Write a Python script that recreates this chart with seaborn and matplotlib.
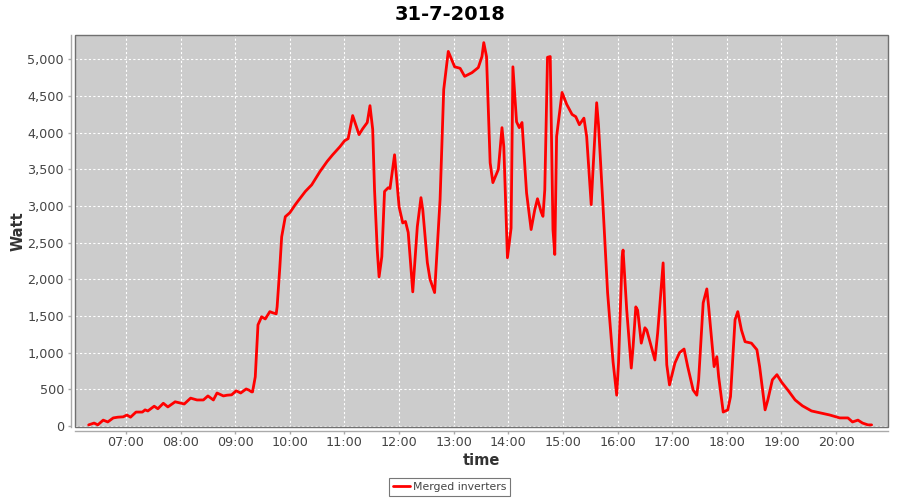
import matplotlib
matplotlib.use("Agg")
import matplotlib.pyplot as plt
import matplotlib.dates as mdates
from matplotlib.ticker import FuncFormatter, MultipleLocator
from matplotlib.patches import Rectangle
import seaborn as sns
import pandas as pd

times = ["06:19", "06:25", "06:29", "06:35", "06:40", "06:46", "06:51", "06:57",
         "07:01", "07:05", "07:11", "07:18", "07:21", "07:24", "07:31", "07:35",
         "07:41", "07:46", "07:54", "08:04", "08:11", "08:18", "08:25", "08:30",
         "08:36", "08:40", "08:47", "08:51", "08:56", "09:01", "09:06", "09:12",
         "09:15", "09:18", "09:19", "09:22", "09:25", "09:29", "09:33", "09:38",
         "09:41", "09:45", "09:46", "09:49", "09:51", "09:55", "10:00", "10:06",
         "10:09", "10:17", "10:24", "10:33", "10:41", "10:47", "10:55", "11:00",
         "11:04", "11:09", "11:16", "11:20", "11:25", "11:28", "11:31", "11:33",
         "11:36", "11:38", "11:41", "11:44", "11:48", "11:50", "11:55", "12:00",
         "12:04", "12:07", "12:10", "12:15", "12:20", "12:24", "12:26", "12:31",
         "12:34", "12:39", "12:45", "12:49", "12:54", "13:01", "13:07", "13:12",
         "13:20", "13:27", "13:31", "13:33", "13:36", "13:40", "13:43", "13:49",
         "13:53", "13:55", "13:59", "14:03", "14:05", "14:09", "14:12", "14:15",
         "14:20", "14:25", "14:29", "14:32", "14:36", "14:38", "14:40", "14:43",
         "14:46", "14:49", "14:51", "14:53", "14:59", "15:04", "15:10", "15:14",
         "15:18", "15:23", "15:26", "15:31", "15:33", "15:37", "15:39", "15:44",
         "15:49", "15:55", "15:59", "16:01", "16:05", "16:06", "16:10", "16:15",
         "16:17", "16:20", "16:22", "16:26", "16:30", "16:32", "16:41", "16:44",
         "16:50", "16:54", "16:57", "17:03", "17:08", "17:13", "17:17", "17:23",
         "17:27", "17:29", "17:34", "17:38", "17:40", "17:46", "17:49", "17:51",
         "17:56", "18:01", "18:04", "18:09", "18:12", "18:16", "18:20", "18:27",
         "18:33", "18:36", "18:42", "18:45", "18:50", "18:55", "19:00", "19:07",
         "19:15", "19:23", "19:33", "19:42", "19:53", "20:04", "20:13", "20:18",
         "20:24", "20:29", "20:35", "20:39"]

watts = [15, 40, 15, 80, 55, 110, 120, 125,
         150, 120, 190, 190, 220, 205, 270, 235,
         310, 260, 330, 300, 380, 355, 355, 410,
         355, 450, 410, 420, 425, 480, 450, 505,
         490, 465, 465, 670, 1380, 1490, 1460, 1560,
         1545, 1530, 1625, 2170, 2580, 2855, 2910, 3020,
         3070, 3200, 3290, 3470, 3610, 3700, 3810, 3890,
         3920, 4235, 3975, 4055, 4140, 4370, 4045, 3225,
         2400, 2035, 2310, 3200, 3250, 3240, 3700, 2990,
         2770, 2790, 2640, 1830, 2720, 3115, 2950, 2230,
         2000, 1820, 3090, 4590, 5110, 4900, 4880, 4770,
         4820, 4890, 5040, 5230, 5040, 3590, 3320, 3500,
         4070, 3810, 2295, 2700, 4900, 4150, 4070, 4140,
         3180, 2680, 2950, 3100, 2920, 2860, 3220, 5030,
         5040, 2680, 2340, 3950, 4550, 4390, 4250, 4220,
         4110, 4200, 3950, 3020, 3500, 4410, 4110, 2990,
         1820, 875, 420, 860, 2310, 2400, 1585, 790,
         1080, 1625, 1580, 1130, 1340, 1310, 900, 1270,
         2225, 835, 560, 860, 1000, 1050, 810, 490,
         420, 630, 1680, 1870, 1625, 810, 945, 670,
         190, 220, 400, 1450, 1560, 1310, 1150, 1130,
         1040, 810, 220, 355, 630, 700, 600, 490,
         355, 275, 205, 180, 150, 110, 110, 55,
         80, 40, 15, 15]

series_name = "Merged inverters"
title = "31-7-2018"
day = "2018-07-31"

df = pd.DataFrame({
    "time": pd.to_datetime([f"{day} {t}" for t in times]),
    "Watt": watts,
    "series": series_name,
})

sns.set_theme(style="white")
plt.rcParams["font.family"] = ["DejaVu Sans"]

fig = plt.figure(figsize=(9, 5), dpi=100)
ax = fig.add_axes([75 / 900, 73.5 / 500, 813 / 900, 391.5 / 500])
ax.set_facecolor("#cccccc")

sns.lineplot(data=df, x="time", y="Watt", hue="series", palette=["#ff0000"],
             linewidth=2, ax=ax, legend=False)

ax.set_xlim(pd.Timestamp(f"{day} 06:04"), pd.Timestamp(f"{day} 20:57"))
ax.set_ylim(-7, 5334)
ax.yaxis.set_major_locator(MultipleLocator(500))
ax.yaxis.set_major_formatter(FuncFormatter(lambda v, p: f"{int(v):,}"))
ax.xaxis.set_major_locator(mdates.HourLocator())
ax.xaxis.set_major_formatter(mdates.DateFormatter("%H:%M"))

ax.grid(True, color="white", linestyle=(0, (2, 2)), linewidth=0.8)
for s in ["top", "right"]:
    ax.spines[s].set_visible(False)
for s in ["left", "bottom"]:
    ax.spines[s].set_position(("outward", 3))
    ax.spines[s].set_color("#aaaaaa")
    ax.spines[s].set_linewidth(1)
ax.add_patch(Rectangle((0, 0), 1, 1, transform=ax.transAxes, fill=False,
                       edgecolor="#707070", linewidth=1, clip_on=False, zorder=5))

ax.tick_params(axis="both", which="major", length=2, width=1, color="#aaaaaa",
               labelsize=9.2, labelcolor="#444444", bottom=True, left=True, pad=3)
ax.tick_params(axis="x", pad=2)

ax.set_xlabel("time", fontsize=10.5, fontweight="bold", color="#333333", labelpad=3)
ax.set_ylabel("Watt", fontsize=10.5, fontweight="bold", color="#333333", labelpad=1)

fig.suptitle(title, fontsize=14, fontweight="bold", color="black",
             y=1 - 14 / 500, va="center")

handle = plt.Line2D([], [], color="#ff0000", linewidth=2)
leg = fig.legend([handle], [series_name], loc="center",
                 bbox_to_anchor=(449.5 / 900, 1 - 487 / 500), fancybox=False,
                 frameon=True, fontsize=7.8, handlelength=1.6, handletextpad=0.3,
                 borderpad=0.35, borderaxespad=0)
leg.get_frame().set_edgecolor("#555555")
leg.get_frame().set_linewidth(0.8)
for t in leg.get_texts():
    t.set_color("#444444")

fig.savefig("out.png", dpi=100, facecolor="white")
